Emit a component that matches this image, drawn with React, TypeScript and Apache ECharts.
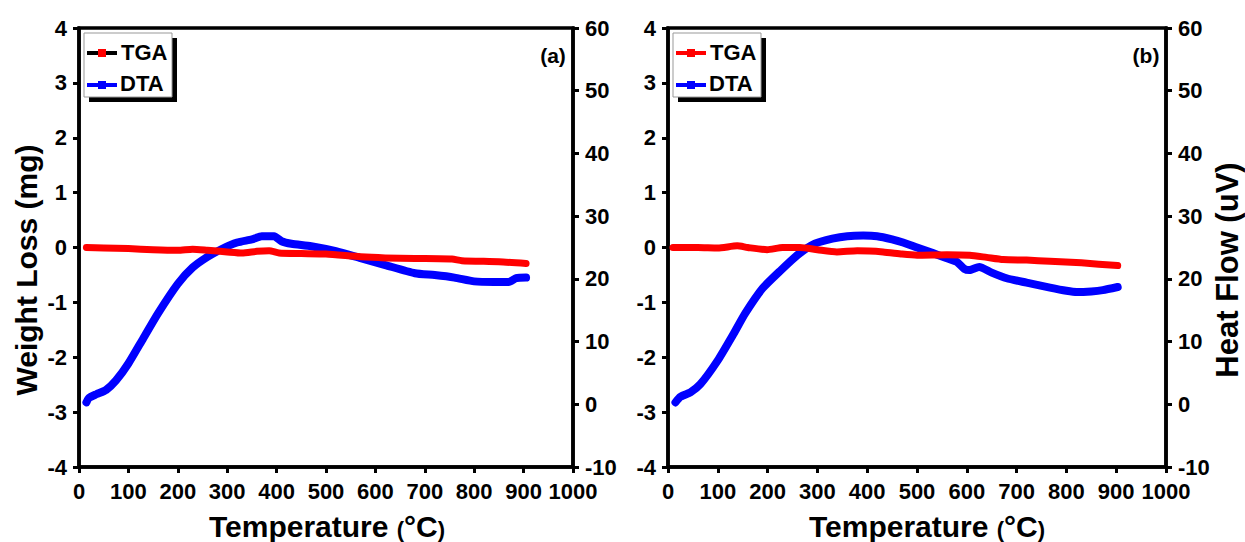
import React, { useEffect, useRef } from "react";
import * as echarts from "echarts";

// ---- Data (temperature in °C) ----
const tgaATemp = [15, 50, 100, 150, 200, 230, 260, 300, 330, 360, 385, 405, 450, 500, 570, 620, 680, 755, 775, 850, 905];
const tgaAVal = [0, -0.01, -0.02, -0.04, -0.05, -0.03, -0.05, -0.08, -0.1, -0.07, -0.06, -0.1, -0.11, -0.12, -0.17, -0.19, -0.2, -0.21, -0.24, -0.26, -0.29];

const dtaATemp = [15, 20, 35, 55, 75, 100, 130, 160, 200, 230, 260, 290, 320, 350, 370, 395, 410, 430, 470, 520, 570, 620, 680, 720, 760, 800, 840, 870, 885, 905];
const dtaAVal = [0.3, 1.0, 1.6, 2.3, 3.8, 6.5, 10.5, 14.5, 19.2, 21.8, 23.5, 24.8, 25.8, 26.3, 26.8, 26.8, 26.0, 25.6, 25.2, 24.4, 23.3, 22.2, 20.9, 20.6, 20.2, 19.6, 19.5, 19.5, 20.1, 20.2];

const tgaBTemp = [10, 60, 100, 139, 160, 199, 230, 265, 300, 339, 380, 432, 470, 500, 560, 606, 640, 673, 720, 767, 830, 903];
const tgaBVal = [0, 0, -0.01, 0.03, 0.0, -0.04, 0.0, 0.0, -0.04, -0.08, -0.06, -0.08, -0.12, -0.14, -0.13, -0.14, -0.18, -0.22, -0.23, -0.25, -0.28, -0.33];

const dtaBTemp = [15, 25, 45, 65, 100, 130, 155, 190, 227, 260, 295, 330, 360, 392, 420, 450, 472, 500, 532, 560, 580, 595, 605, 625, 650, 680, 720, 767, 800, 821, 850, 873, 903];
const dtaBVal = [0.3, 1.2, 1.9, 3.2, 7.0, 11.0, 14.5, 18.5, 21.4, 23.8, 25.6, 26.4, 26.8, 26.9, 26.8, 26.3, 25.8, 25.0, 24.1, 23.3, 22.7, 21.6, 21.4, 21.9, 21.0, 20.1, 19.4, 18.6, 18.1, 17.9, 18.0, 18.2, 18.7];

const weightTicks = { min: -4, max: 4, interval: 1 };
const heatTicks = { min: -10, max: 60, interval: 10 };
const tempTicks = { min: 0, max: 1000, interval: 100 };

const zip = (xs: number[], ys: number[]) => xs.map((x, i) => [x, ys[i]]);

const FONT = "'Liberation Sans', Arial, sans-serif";
const RED = "#ff0000";
const BLUE = "#0000ff";

export default function App() {
  const ref = useRef<HTMLDivElement>(null);

  useEffect(() => {
    if (!ref.current) return;
    const chart = echarts.init(ref.current, undefined, { renderer: "svg" });

    const axisLine = { show: true, onZero: false, lineStyle: { color: "#000", width: 3.5 } };
    const axisTick = { show: true, inside: false, length: 6, lineStyle: { color: "#000", width: 3 } };
    const label = { color: "#000", fontSize: 22, fontWeight: "bold" as const, fontFamily: FONT, formatter: (v: number) => String(v) };

    const xAxis = (gridIndex: number) => ({
      type: "value",
      gridIndex,
      position: "bottom",
      ...tempTicks,
      axisLine,
      axisTick,
      axisLabel: { ...label, margin: 13 },
      splitLine: { show: false },
    });
    const yLeft = (gridIndex: number) => ({
      type: "value",
      gridIndex,
      position: "left",
      ...weightTicks,
      axisLine,
      axisTick,
      axisLabel: { ...label, margin: 12 },
      splitLine: { show: false },
    });
    const yRight = (gridIndex: number) => ({
      type: "value",
      gridIndex,
      position: "right",
      ...heatTicks,
      axisLine,
      axisTick,
      axisLabel: { ...label, margin: 12 },
      splitLine: { show: false },
    });

    const lineSeries = (name: string, data: number[][], color: string, width: number, xi: number, yi: number) => ({
      type: "line",
      name,
      data,
      xAxisIndex: xi,
      yAxisIndex: yi,
      showSymbol: false,
      symbol: "none",
      smooth: 0.2,
      lineStyle: { color, width, join: "round", cap: "round" },
      itemStyle: { color },
      z: name === "DTA" ? 3 : 4,
    });

    const legend = (x0: number, tgaLineColor: string) => {
      const t = { fontSize: 22, fontWeight: "bold", fontFamily: FONT, fill: "#000", verticalAlign: "middle", align: "left" };
      return [
        { type: "rect", shape: { x: x0 + 5, y: 38, width: 88, height: 64 }, style: { fill: "#000" }, z: 10 },
        { type: "rect", shape: { x: x0, y: 33, width: 88, height: 64 }, style: { fill: "#fff", stroke: "#999", lineWidth: 1 }, z: 11 },
        { type: "line", shape: { x1: x0 + 3, y1: 53, x2: x0 + 33, y2: 53 }, style: { stroke: tgaLineColor, lineWidth: 4 }, z: 12 },
        { type: "rect", shape: { x: x0 + 14, y: 49, width: 8, height: 8 }, style: { fill: RED }, z: 13 },
        { type: "text", x: x0 + 37, y: 52, style: { text: "TGA", ...t }, z: 12 },
        { type: "line", shape: { x1: x0 + 3, y1: 85, x2: x0 + 33, y2: 85 }, style: { stroke: BLUE, lineWidth: 4 }, z: 12 },
        { type: "rect", shape: { x: x0 + 14, y: 81, width: 8, height: 8 }, style: { fill: BLUE }, z: 13 },
        { type: "text", x: x0 + 36, y: 83, style: { text: "DTA", ...t }, z: 12 },
      ];
    };

    const titleStyle = (size: number) => ({ fontSize: size, fontWeight: "bold", fontFamily: FONT, fill: "#000", align: "center", verticalAlign: "middle" });
    const tempTitle = (x: number) => ({
      type: "text",
      x,
      y: 526,
      style: {
        text: "Temperature {p|(}°C{p|)}",
        ...titleStyle(30),
        rich: { p: { fontSize: 22, fontWeight: "bold", fontFamily: FONT, fill: "#000", padding: [7, 0, 0, 0] } },
      },
    });

    chart.setOption({
      animation: false,
      backgroundColor: "#fff",
      grid: [
        { left: 79, top: 28, width: 494, height: 439, show: true, borderColor: "#000", borderWidth: 3.5, backgroundColor: "transparent" },
        { left: 668, top: 28, width: 498, height: 439, show: true, borderColor: "#000", borderWidth: 3.5, backgroundColor: "transparent" },
      ],
      xAxis: [xAxis(0), xAxis(1)],
      yAxis: [yLeft(0), yRight(0), yLeft(1), yRight(1)],
      series: [
        lineSeries("DTA", zip(dtaATemp, dtaAVal), BLUE, 8, 0, 1),
        lineSeries("TGA", zip(tgaATemp, tgaAVal), RED, 7, 0, 0),
        lineSeries("DTA", zip(dtaBTemp, dtaBVal), BLUE, 8, 1, 3),
        lineSeries("TGA", zip(tgaBTemp, tgaBVal), RED, 7, 1, 2),
      ],
      graphic: [
        ...legend(84, "#000"),
        ...legend(673, RED),
        { type: "text", x: 553, y: 55, style: { text: "(a)", fontSize: 21, fontWeight: "bold", fontFamily: FONT, fill: "#000", align: "center", verticalAlign: "middle" } },
        { type: "text", x: 1146, y: 55, style: { text: "(b)", fontSize: 21, fontWeight: "bold", fontFamily: FONT, fill: "#000", align: "center", verticalAlign: "middle" } },
        { type: "text", x: 26, y: 270, rotation: Math.PI / 2, style: { text: "Weight Loss (mg)", ...titleStyle(30) } },
        { type: "text", x: 1227, y: 270, rotation: Math.PI / 2, style: { text: "Heat Flow (uV)", ...titleStyle(31) } },
        tempTitle(327),
        tempTitle(927),
      ],
    });

    return () => chart.dispose();
  }, []);

  return <div ref={ref} style={{ position: "fixed", left: 0, top: 0, width: 1245, height: 542, background: "#fff" }} />;
}
